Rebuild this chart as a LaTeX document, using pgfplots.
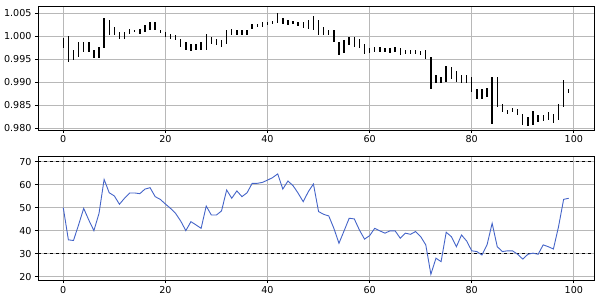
\documentclass[border=0pt]{standalone}
\usepackage{pgfplots}
\pgfplotsset{compat=1.18}
\usepackage{pgfplotstable}
\usepackage{fontspec}
\setmainfont{DejaVu Sans}
\definecolor{rsiblue}{RGB}{68,100,200}
\pgfplotstableread{
x lo hi
0 0.9975 0.9995
1 0.9944 0.9999
2 0.9947 0.9969
3 0.9954 0.9987
4 0.9965 0.9987
5 0.9965 0.9987
6 0.9953 0.9970
7 0.9953 0.9976
8 0.9973 1.0038
9 1.0002 1.0034
10 1.0002 1.0020
11 0.9994 1.0009
12 0.9994 1.0009
13 1.0005 1.0016
14 1.0008 1.0012
15 1.0005 1.0016
16 1.0009 1.0023
17 1.0012 1.0030
18 1.0012 1.0030
19 1.0007 1.0014
20 0.9997 1.0009
21 0.9993 1.0005
22 0.9991 1.0002
23 0.9976 0.9994
24 0.9969 0.9987
25 0.9967 0.9983
26 0.9969 0.9983
27 0.9969 0.9987
28 0.9969 1.0005
29 0.9983 0.9998
30 0.9980 0.9994
31 0.9976 0.9991
32 0.9983 1.0014
33 1.0002 1.0016
34 1.0003 1.0014
35 1.0003 1.0014
36 1.0003 1.0014
37 1.0016 1.0027
38 1.0020 1.0027
39 1.0020 1.0031
40 1.0023 1.0031
41 1.0025 1.0033
42 1.0028 1.0050
43 1.0025 1.0038
44 1.0023 1.0034
45 1.0027 1.0033
46 1.0021 1.0031
47 1.0018 1.0031
48 1.0016 1.0034
49 1.0012 1.0043
50 1.0002 1.0034
51 1.0002 1.0020
52 1.0002 1.0012
53 0.9987 1.0012
54 0.9958 0.9987
55 0.9962 0.9991
56 0.9980 0.9998
57 0.9976 0.9998
58 0.9973 0.9994
59 0.9962 0.9983
60 0.9962 0.9973
61 0.9965 0.9976
62 0.9965 0.9976
63 0.9965 0.9973
64 0.9963 0.9973
65 0.9965 0.9975
66 0.9958 0.9973
67 0.9960 0.9969
68 0.9960 0.9969
69 0.9960 0.9969
70 0.9958 0.9967
71 0.9951 0.9969
72 0.9884 0.9954
73 0.9897 0.9915
74 0.9897 0.9911
75 0.9900 0.9936
76 0.9907 0.9933
77 0.9900 0.9925
78 0.9897 0.9915
79 0.9897 0.9915
80 0.9878 0.9912
81 0.9864 0.9886
82 0.9864 0.9886
83 0.9867 0.9888
84 0.9810 0.9910
85 0.9846 0.9910
86 0.9835 0.9852
87 0.9830 0.9839
88 0.9835 0.9844
89 0.9828 0.9842
90 0.9806 0.9830
91 0.9804 0.9824
92 0.9808 0.9837
93 0.9813 0.9828
94 0.9815 0.9828
95 0.9818 0.9835
96 0.9811 0.9831
97 0.9817 0.9852
98 0.9846 0.9904
99 0.9876 0.9884
}\candles
\pgfplotstableread{
x rsi
0 50.0
1 36.0
2 35.7
3 42.5
4 49.7
5 44.6
6 40.0
7 47.5
8 62.3
9 56.5
10 55.1
11 51.5
12 54.1
13 56.4
14 56.4
15 56.1
16 58.1
17 58.7
18 54.8
19 53.6
20 51.6
21 49.7
22 47.5
23 44.2
24 40.0
25 43.9
26 42.5
27 41.0
28 50.7
29 46.8
30 46.8
31 48.6
32 57.7
33 54.1
34 57.3
35 54.8
36 56.5
37 60.6
38 60.6
39 61.0
40 62.0
41 63.1
42 64.7
43 58.1
44 61.6
45 59.6
46 56.3
47 52.6
48 57.0
49 60.3
50 48.3
51 47.1
52 46.4
53 41.0
54 34.5
55 39.9
56 45.4
57 45.1
58 40.3
59 36.3
60 37.8
61 41.0
62 39.9
63 38.9
64 39.9
65 39.9
66 36.7
67 38.9
68 38.4
69 39.6
70 37.4
71 33.8
72 21.0
73 28.0
74 26.5
75 39.3
76 37.4
77 33.0
78 38.1
79 35.5
80 31.2
81 30.9
82 29.4
83 33.8
84 43.2
85 33.0
86 30.9
87 31.2
88 31.2
89 29.7
90 27.6
91 29.7
92 30.2
93 29.7
94 33.8
95 33.0
96 32.0
97 41.7
98 53.6
99 54.1
}\rsidata
\begin{document}
\begin{tikzpicture}
\useasboundingbox (-38bp,-169bp) rectangle (562bp,130bp);
\pgfplotsset{
  common/.style={
    width=556bp, height=124bp, scale only axis,
    xmin=-4.95, xmax=103.95, xtick={0,20,40,60,80,100},
    grid=major, grid style={color=black!28, line width=0.7bp},
    axis line style={line width=0.9bp},
    tick align=outside, major tick length=3bp,
    tick style={black, line width=0.7bp},
    ticklabel style={font=\fontsize{9.6}{11}\selectfont},
    /pgf/number format/assume math mode=true,
    xtick pos=bottom, ytick pos=left,
  }
}
\begin{axis}[common, at={(0,0)}, anchor=south west,
  ymin=0.9796, ymax=1.0065,
  ytick={0.98,0.985,0.99,0.995,1.0,1.005},
  yticklabel style={/pgf/number format/.cd, fixed, fixed zerofill, precision=3},
  xticklabel style={yshift=1bp}]
\addplot[draw=none, mark=none,
  error bars/.cd, y dir=both, y explicit, error mark=none,
  error bar style={draw=black, solid, line width=1.4bp}]
  table[x=x, y expr=(\thisrow{lo}+\thisrow{hi})/2,
        y error plus expr=(\thisrow{hi}-\thisrow{lo})/2,
        y error minus expr=(\thisrow{hi}-\thisrow{lo})/2] {\candles};
\end{axis}
\begin{axis}[common, at={(0,-150bp)}, anchor=south west,
  ymin=18.5, ymax=72.5, ytick={20,30,40,50,60,70}]
\addplot[black, dashed, line width=0.9bp, forget plot] coordinates {(-4.95,70) (103.95,70)};
\addplot[black, dashed, line width=0.9bp, forget plot] coordinates {(-4.95,30) (103.95,30)};
\addplot[rsiblue, line width=0.9bp, mark=none] table[x=x, y=rsi] {\rsidata};
\end{axis}
\end{tikzpicture}
\end{document}
